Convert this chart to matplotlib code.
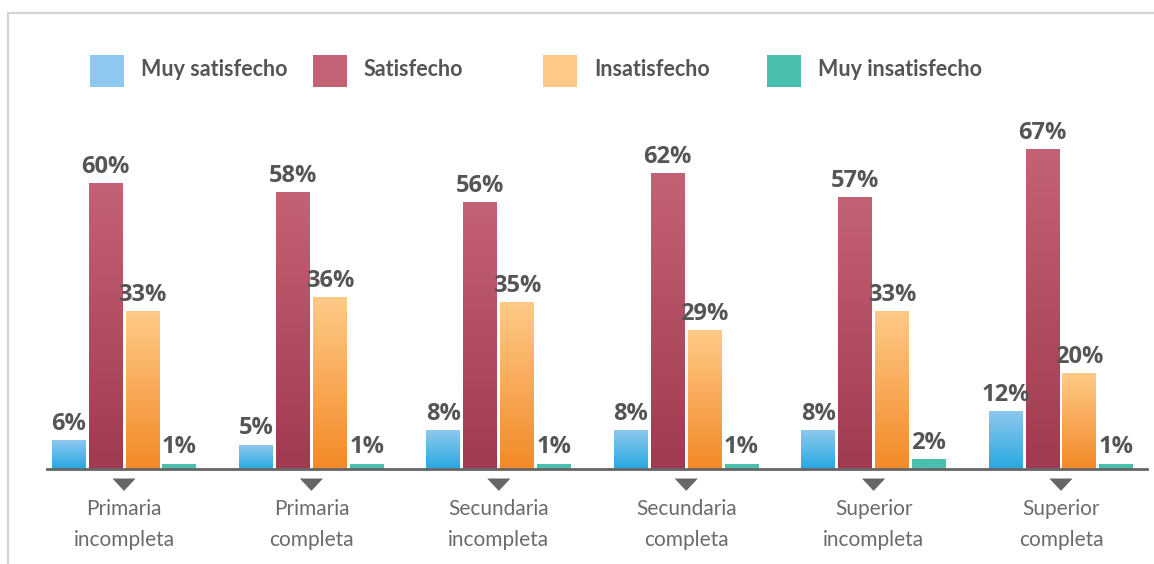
import numpy as np
import matplotlib
matplotlib.use("Agg")
import matplotlib.pyplot as plt
from matplotlib.patches import Rectangle, Polygon
from matplotlib.colors import LinearSegmentedColormap

plt.rcParams['font.family'] = ['Lato', 'DejaVu Sans']

# Data
categories = ["Primaria\nincompleta", "Primaria\ncompleta", "Secundaria\nincompleta",
              "Secundaria\ncompleta", "Superior\nincompleta", "Superior\ncompleta"]
series_names = ["Muy satisfecho", "Satisfecho", "Insatisfecho", "Muy insatisfecho"]
muy_satisfecho = [6, 5, 8, 8, 8, 12]
satisfecho = [60, 58, 56, 62, 57, 67]
insatisfecho = [33, 36, 35, 29, 33, 20]
muy_insatisfecho = [1, 1, 1, 1, 2, 1]

# (top colour, bottom colour) for the gradient fills
GRADIENTS = [
    ("#8ec8ee", "#27a9e1"),
    ("#c46275", "#a03a50"),
    ("#ffca88", "#f38a28"),
    ("#4abfae", "#4abfae"),
]
LEGEND_COLORS = ["#8ec8ee", "#c46275", "#ffca88", "#4abfae"]

TEXT_COLOR = "#555555"
TICK_COLOR = "#6b6b6b"
W, H = 1154, 564

BAR_WIDTH = 0.181
BAR_STEP = 0.197


def gradient_bar(ax, x, h, c_top, c_bot):
    cmap = LinearSegmentedColormap.from_list("g", [c_bot, c_top])
    grad = np.linspace(0, 1, 100).reshape(-1, 1)
    ax.imshow(grad, cmap=cmap, origin="lower", aspect="auto",
              extent=[x - BAR_WIDTH / 2, x + BAR_WIDTH / 2, 0, h],
              interpolation="bicubic", zorder=2)


fig = plt.figure(figsize=(W / 100.0, H / 100.0), dpi=100)
ax = fig.add_axes([47 / W, (H - 469) / H, 1100 / W, 369 / H])

values = [muy_satisfecho, satisfecho, insatisfecho, muy_insatisfecho]
xs = np.arange(len(categories))
for s, (vals, (ctop, cbot)) in enumerate(zip(values, GRADIENTS)):
    offs = (s - 1.5) * BAR_STEP
    for x, v in zip(xs, vals):
        gradient_bar(ax, x + offs, v, ctop, cbot)
        ax.text(x + offs, v + 1.0, "%d%%" % v, ha="center", va="bottom",
                fontsize=17, fontweight="bold", color=TEXT_COLOR,
                family=["Open Sans", "DejaVu Sans"])

ax.set_xlim(-0.411, 5.459)
ax.set_ylim(0, 77.5)
for sp in ["top", "right", "left"]:
    ax.spines[sp].set_visible(False)
ax.spines["bottom"].set_color("#666666")
ax.spines["bottom"].set_linewidth(2.0)
ax.set_yticks([])
ax.set_xticks([])

# triangles and category labels under the axis
for x, cat in zip(xs, categories):
    tri = Polygon([[x - 0.062, -2.0], [x + 0.062, -2.0], [x, -4.6]], closed=True,
                  facecolor="#666666", edgecolor="none", clip_on=False,
                  transform=ax.transData)
    ax.add_patch(tri)
    ax.text(x, -6.2, cat, ha="center", va="top", fontsize=15,
            color=TICK_COLOR, linespacing=1.72)

# legend drawn by hand in figure pixels
legend_x = [90, 313, 543, 767]
for lx, name, col in zip(legend_x, series_names, LEGEND_COLORS):
    fig.patches.append(Rectangle((lx / W, (H - 87) / H), 34 / W, 32 / H,
                                 facecolor=col, edgecolor="none",
                                 transform=fig.transFigure))
    fig.text((lx + 51) / W, (H - 70) / H, name, ha="left", va="center",
             fontsize=15.5, fontweight="bold", color=TEXT_COLOR)

# light frame on top and left
fig.add_artist(plt.Line2D([8 / W, 1], [(H - 13) / H] * 2, color="#d4d4d4",
                          lw=1.6, transform=fig.transFigure))
fig.add_artist(plt.Line2D([8 / W] * 2, [0, (H - 13) / H], color="#d4d4d4",
                          lw=1.6, transform=fig.transFigure))

fig.savefig("out.png", dpi=100)
